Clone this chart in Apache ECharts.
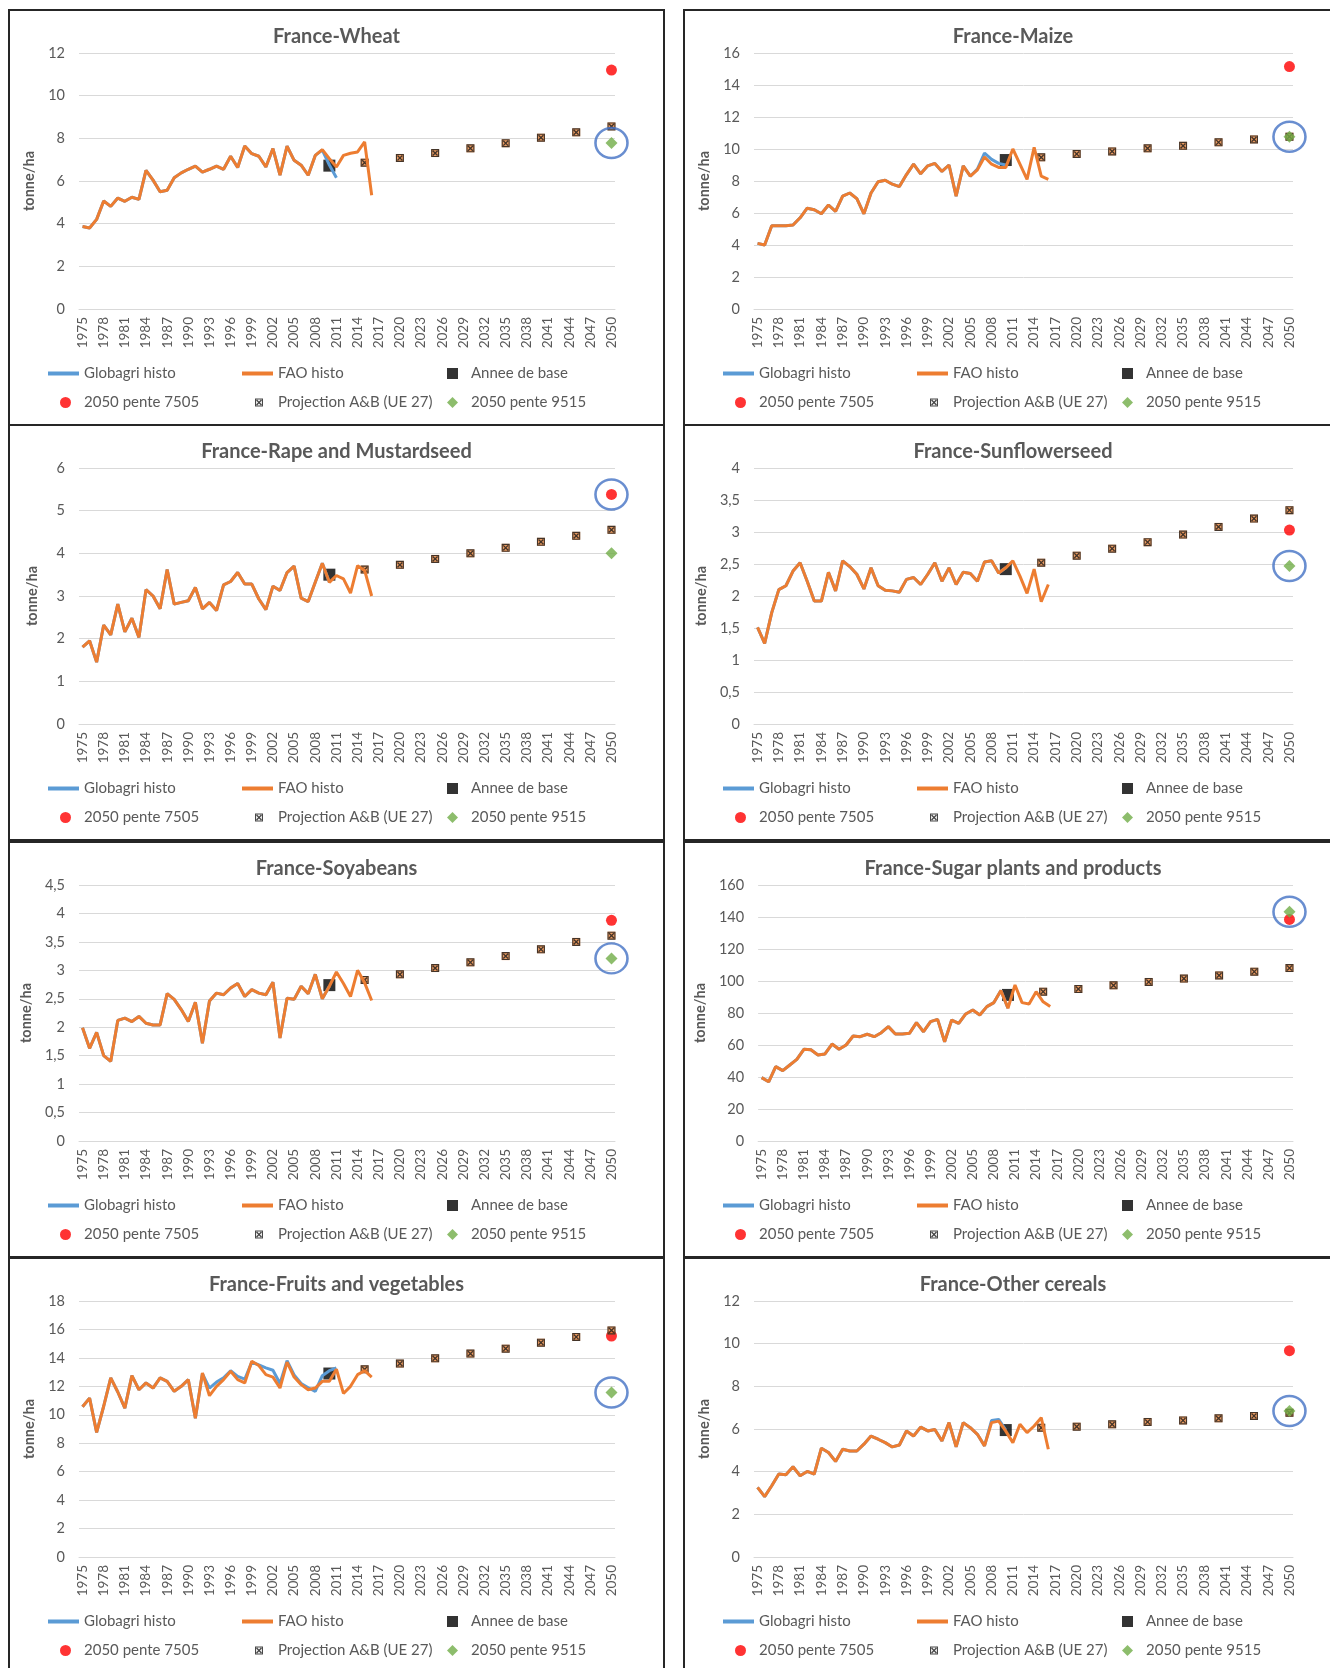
<!DOCTYPE html>
<html>
<head>
<meta charset="utf-8">
<title>France yields</title>
<script src="https://cdn.jsdelivr.net/npm/echarts@6/dist/echarts.min.js"></script>
<style>
  html, body { margin: 0; padding: 0; background: #fff; }
  body { width: 1330px; height: 1668px; position: relative; overflow: hidden; }
  .panel { position: absolute; box-sizing: border-box; border: 2px solid #262626; background: #fff; }
</style>
</head>
<body>
<script>
// axe des années (catégories)
const years = [];
for (let y = 1975; y <= 2050; y++) years.push(String(y));
const baseYear = '2010';
const projYears = ['2015', '2020', '2025', '2030', '2035', '2040', '2045', '2050'];
const endYear = '2050';

// ---- Wheat
const wheatFao = [3.87, 3.8, 4.2, 5.06, 4.81, 5.2, 5.05, 5.24, 5.14, 6.5, 6.04, 5.5, 5.57, 6.15, 6.38, 6.55, 6.7, 6.42, 6.55, 6.7, 6.55, 7.16, 6.63, 7.64, 7.28, 7.16, 6.66, 7.52, 6.27, 7.63, 6.97, 6.74, 6.27, 7.2, 7.47, 7.05, 6.66, 7.2, 7.3, 7.36, 7.83, 5.33];
const wheatGlobagri = [3.87, 3.8, 4.2, 5.06, 4.81, 5.2, 5.05, 5.24, 5.14, 6.5, 6.04, 5.5, 5.57, 6.15, 6.38, 6.55, 6.7, 6.42, 6.55, 6.7, 6.55, 7.16, 6.63, 7.64, 7.28, 7.16, 6.66, 7.52, 6.27, 7.63, 6.97, 6.74, 6.27, 7.2, 7.45, 6.75, 6.15];
const wheatBase = 6.72;
const wheatProj = [6.86, 7.08, 7.31, 7.53, 7.77, 8.03, 8.28, 8.56];
const wheat7505 = 11.2;
const wheat9515 = 7.78;

// ---- Maize
const maizeFao = [4.1, 4.0, 5.2, 5.2, 5.2, 5.25, 5.7, 6.3, 6.2, 5.95, 6.5, 6.1, 7.05, 7.25, 6.9, 5.95, 7.25, 7.95, 8.05, 7.8, 7.65, 8.4, 9.05, 8.45, 8.95, 9.1, 8.6, 9.0, 7.05, 8.95, 8.3, 8.7, 9.5, 9.05, 8.85, 8.85, 10.0, 9.05, 8.1, 10.1, 8.3, 8.1];
const maizeGlobagri = [4.1, 4.0, 5.2, 5.2, 5.2, 5.25, 5.7, 6.3, 6.2, 5.95, 6.5, 6.1, 7.05, 7.25, 6.9, 5.95, 7.25, 7.95, 8.05, 7.8, 7.65, 8.4, 9.05, 8.45, 8.95, 9.1, 8.6, 9.0, 7.05, 8.95, 8.3, 8.75, 9.75, 9.35, 9.1, 9.0];
const maizeBase = 9.31;
const maizeProj = [9.48, 9.69, 9.85, 10.04, 10.2, 10.42, 10.6, 10.77];
const maize7505 = 15.15;
const maize9515 = 10.77;

// ---- Rape and Mustardseed
const rapeFao = [1.8, 1.95, 1.45, 2.32, 2.09, 2.81, 2.16, 2.48, 2.03, 3.15, 3.0, 2.7, 3.62, 2.81, 2.85, 2.89, 3.2, 2.7, 2.85, 2.66, 3.26, 3.34, 3.55, 3.28, 3.28, 2.93, 2.68, 3.23, 3.13, 3.55, 3.7, 2.95, 2.87, 3.32, 3.77, 3.32, 3.48, 3.4, 3.07, 3.71, 3.6, 3.0];
const rapeGlobagri = [1.8, 1.95, 1.45, 2.32, 2.09, 2.81, 2.16, 2.48, 2.03, 3.15, 3.0, 2.7, 3.62, 2.81, 2.85, 2.89, 3.2, 2.7, 2.85, 2.66, 3.26, 3.34, 3.55, 3.28, 3.28, 2.93, 2.68, 3.23, 3.13, 3.55, 3.7, 2.95, 2.87, 3.32, 3.77, 3.32];
const rapeBase = 3.5;
const rapeProj = [3.62, 3.73, 3.87, 4.0, 4.13, 4.27, 4.41, 4.55];
const rape7505 = 5.38;
const rape9515 = 4.0;

// ---- Sunflowerseed
const sunFao = [1.51, 1.26, 1.74, 2.1, 2.16, 2.39, 2.52, 2.23, 1.92, 1.92, 2.37, 2.08, 2.55, 2.46, 2.34, 2.11, 2.44, 2.16, 2.09, 2.08, 2.06, 2.26, 2.29, 2.18, 2.34, 2.52, 2.23, 2.44, 2.18, 2.37, 2.35, 2.23, 2.53, 2.55, 2.36, 2.44, 2.55, 2.31, 2.04, 2.42, 1.91, 2.18];
const sunGlobagri = [1.51, 1.26, 1.74, 2.1, 2.16, 2.39, 2.52, 2.23, 1.92, 1.92, 2.37, 2.08, 2.55, 2.46, 2.34, 2.11, 2.44, 2.16, 2.09, 2.08, 2.06, 2.26, 2.29, 2.18, 2.34, 2.52, 2.23, 2.44, 2.18, 2.37, 2.35, 2.23, 2.53, 2.55, 2.36, 2.44];
const sunBase = 2.42;
const sunProj = [2.52, 2.63, 2.74, 2.84, 2.96, 3.08, 3.21, 3.34];
const sun7505 = 3.03;
const sun9515 = 2.47;

// ---- Soyabeans
const soyFao = [1.99, 1.63, 1.91, 1.5, 1.4, 2.12, 2.16, 2.1, 2.19, 2.07, 2.04, 2.04, 2.59, 2.49, 2.31, 2.1, 2.44, 1.72, 2.46, 2.6, 2.57, 2.69, 2.77, 2.54, 2.66, 2.6, 2.57, 2.79, 1.81, 2.51, 2.49, 2.72, 2.59, 2.93, 2.5, 2.72, 2.97, 2.77, 2.54, 3.0, 2.78, 2.47];
const soyGlobagri = [1.99, 1.63, 1.91, 1.5, 1.4, 2.12, 2.16, 2.1, 2.19, 2.07, 2.04, 2.04, 2.59, 2.49, 2.31, 2.1, 2.44, 1.72, 2.46, 2.6, 2.57, 2.69, 2.77, 2.54, 2.66, 2.6, 2.57, 2.79, 1.81, 2.51, 2.49, 2.72, 2.59, 2.93, 2.5, 2.72];
const soyBase = 2.74;
const soyProj = [2.83, 2.93, 3.04, 3.14, 3.25, 3.37, 3.5, 3.61];
const soy7505 = 3.88;
const soy9515 = 3.21;

// ---- Sugar plants and products
const sugarFao = [39.6, 37, 46.5, 44, 47.5, 51, 57.3, 57, 53.8, 54.4, 60.6, 57.3, 60, 65.6, 65.2, 66.7, 65.2, 67.7, 71.5, 66.9, 66.9, 67.3, 74, 68.3, 74.6, 76, 62, 75.6, 73.5, 79.4, 81.9, 78.8, 84, 86.5, 94, 83, 97.5, 86.5, 85.6, 93.3, 87, 84];
const sugarGlobagri = [39.6, 37, 46.5, 44, 47.5, 51, 57.3, 57, 53.8, 54.4, 60.6, 57.3, 60, 65.6, 65.2, 66.7, 65.2, 67.7, 71.5, 66.9, 66.9, 67.3, 74, 68.3, 74.6, 76, 62, 75.6, 73.5, 79.4, 81.9, 78.8, 84, 86.5, 94, 83];
const sugarBase = 91.3;
const sugarProj = [93.3, 95, 97.3, 99.4, 101.5, 103.5, 105.8, 108.1];
const sugar7505 = 138.5;
const sugar9515 = 143.3;

// ---- Fruits and vegetables
const fruitFao = [10.56, 11.17, 8.76, 10.6, 12.6, 11.6, 10.47, 12.75, 11.76, 12.24, 11.88, 12.6, 12.35, 11.65, 12.0, 12.47, 9.76, 12.94, 11.34, 12.0, 12.47, 13.06, 12.47, 12.24, 13.76, 13.46, 12.82, 12.65, 11.88, 13.7, 12.65, 12.12, 11.76, 11.88, 12.35, 12.35, 13.2, 11.5, 12.0, 12.82, 13.1, 12.65];
const fruitGlobagri = [10.56, 11.17, 8.76, 10.6, 12.6, 11.6, 10.47, 12.75, 11.76, 12.24, 11.88, 12.6, 12.35, 11.65, 12.0, 12.47, 9.76, 12.9, 11.88, 12.3, 12.6, 13.1, 12.7, 12.5, 13.7, 13.5, 13.3, 13.13, 12.2, 13.8, 12.8, 12.2, 11.9, 11.65, 12.75, 13.1, 13.3];
const fruitBase = 12.9;
const fruitProj = [13.2, 13.6, 13.97, 14.3, 14.65, 15.07, 15.47, 15.93];
const fruit7505 = 15.54;
const fruit9515 = 11.57;

// ---- Other cereals
const otherFao = [3.26, 2.83, 3.34, 3.89, 3.86, 4.23, 3.81, 4.01, 3.89, 5.1, 4.9, 4.48, 5.05, 4.97, 4.97, 5.29, 5.67, 5.52, 5.36, 5.16, 5.25, 5.91, 5.67, 6.09, 5.91, 5.98, 5.44, 6.3, 5.16, 6.3, 6.06, 5.75, 5.21, 6.3, 6.37, 5.9, 5.36, 6.22, 5.83, 6.14, 6.53, 5.05];
const otherGlobagri = [3.26, 2.83, 3.34, 3.89, 3.86, 4.23, 3.81, 4.01, 3.89, 5.1, 4.9, 4.48, 5.05, 4.97, 4.97, 5.29, 5.67, 5.52, 5.36, 5.16, 5.25, 5.91, 5.67, 6.09, 5.91, 5.98, 5.44, 6.3, 5.16, 6.3, 6.06, 5.75, 5.21, 6.4, 6.45, 5.95];
const otherBase = 5.95;
const otherProj = [6.06, 6.11, 6.22, 6.33, 6.4, 6.5, 6.61, 6.76];
const other7505 = 9.67;
const other9515 = 6.84;

const panels = [
  { title: 'France-Wheat', max: 12, step: 2, globagri: wheatGlobagri, fao: wheatFao, base: wheatBase, proj: wheatProj, p7505: wheat7505, p9515: wheat9515, circled: wheat9515 },
  { title: 'France-Maize', max: 16, step: 2, globagri: maizeGlobagri, fao: maizeFao, base: maizeBase, proj: maizeProj, p7505: maize7505, p9515: maize9515, circled: maize9515 },
  { title: 'France-Rape and Mustardseed', max: 6, step: 1, globagri: rapeGlobagri, fao: rapeFao, base: rapeBase, proj: rapeProj, p7505: rape7505, p9515: rape9515, circled: rape7505 },
  { title: 'France-Sunflowerseed', max: 4, step: 0.5, globagri: sunGlobagri, fao: sunFao, base: sunBase, proj: sunProj, p7505: sun7505, p9515: sun9515, circled: sun9515 },
  { title: 'France-Soyabeans', max: 4.5, step: 0.5, globagri: soyGlobagri, fao: soyFao, base: soyBase, proj: soyProj, p7505: soy7505, p9515: soy9515, circled: soy9515 },
  { title: 'France-Sugar plants and products', max: 160, step: 20, globagri: sugarGlobagri, fao: sugarFao, base: sugarBase, proj: sugarProj, p7505: sugar7505, p9515: sugar9515, circled: sugar9515 },
  { title: 'France-Fruits and vegetables', max: 18, step: 2, globagri: fruitGlobagri, fao: fruitFao, base: fruitBase, proj: fruitProj, p7505: fruit7505, p9515: fruit9515, circled: fruit9515 },
  { title: 'France-Other cereals', max: 12, step: 2, globagri: otherGlobagri, fao: otherFao, base: otherBase, proj: otherProj, p7505: other7505, p9515: other9515, circled: other9515 }
];

// positions des cadres [left, top, width]
const slots = [[8, 9, 657], [683, 9, 660], [8, 424, 657], [683, 424, 660], [8, 841, 657], [683, 841, 660], [8, 1257, 657], [683, 1257, 660]];

const FONT = 'Lato, "Open Sans", sans-serif';
const TXT = '#595959';
const GRIDC = '#D9D9D9';
// marqueur "x" d'Excel : cadre + croix
const xMark = 'path://M0,0H10V10H0Z M1.4,1.4V8.6H8.6V1.4Z M1.4,2.6L2.6,1.4L8.6,7.4L7.4,8.6Z M7.4,1.4L8.6,2.6L2.6,8.6L1.4,7.4Z';

// un item de légende
function leg(name, left, top, icon, w, h, pad, style) {
  const item = { name: name, icon: icon };
  if (style) item.itemStyle = style;
  return {
    data: [item],
    left: left, top: top, padding: 0,
    itemWidth: w, itemHeight: h,
    selectedMode: false,
    textStyle: { fontSize: 15, color: TXT, fontFamily: FONT, padding: [0, 0, 0, pad] }
  };
}

function lineData(arr) {
  return years.map((y, i) => (i < arr.length ? arr[i] : null));
}

function makeOption(p) {
  const row1 = 355, row2 = 384;
  const projData = projYears.map((y, i) => [y, p.proj[i]]);
  return {
    animation: false,
    textStyle: { fontFamily: FONT },
    title: {
      text: p.title, left: 'center', top: 11,
      textStyle: { fontSize: 20, fontWeight: 'bold', color: TXT, fontFamily: FONT }
    },
    grid: { left: 69, right: 48, top: 42, bottom: 115 },
    legend: [
      leg('Globagri histo', 38, row1, 'rect', 31, 4, 0),
      leg('FAO histo', 232, row1, 'rect', 31, 4, 0),
      leg('Annee de base', 437, row1, 'rect', 11, 11, 8),
      leg('2050 pente 7505', 50, row2, 'circle', 11, 11, 8),
      leg('Projection A&B (UE 27)', 245, row2, xMark, 8, 8, 10, { color: '#1a1a1a', borderWidth: 0 }),
      leg('2050 pente 9515', 437, row2, 'diamond', 11, 11, 8)
    ],
    xAxis: {
      type: 'category', data: years, boundaryGap: true,
      axisTick: { show: false },
      axisLine: { lineStyle: { color: GRIDC, width: 1 } },
      axisLabel: { interval: 2, rotate: 90, fontSize: 13.5, color: TXT, margin: 8, fontFamily: FONT }
    },
    yAxis: {
      type: 'value', min: 0, max: p.max, interval: p.step,
      name: 'tonne/ha', nameLocation: 'middle', nameGap: 39,
      nameTextStyle: { fontSize: 14.5, fontWeight: 'bold', color: TXT, fontFamily: FONT },
      axisLine: { show: false }, axisTick: { show: false },
      splitLine: { lineStyle: { color: GRIDC, width: 1 } },
      axisLabel: { fontSize: 14.5, color: TXT, margin: 14, fontFamily: FONT, formatter: v => String(v).replace('.', ',') }
    },
    series: [
      { name: 'Globagri histo', type: 'line', data: lineData(p.globagri), color: '#5B9BD5', symbol: 'none', lineStyle: { width: 3 } },
      { name: 'FAO histo', type: 'line', data: lineData(p.fao), color: '#ED7D31', symbol: 'none', lineStyle: { width: 3 } },
      { name: 'Annee de base', type: 'scatter', data: [[baseYear, p.base]], color: '#000000', symbol: 'rect', symbolSize: 12 },
      { name: '2050 pente 7505', type: 'scatter', data: [[endYear, p.p7505]], color: '#FF0000', symbol: 'circle', symbolSize: 11 },
      { name: 'Projection A&B (UE 27)', type: 'scatter', data: projData, color: '#E8833A', symbol: 'rect', symbolSize: 8 },
      { name: 'projX', type: 'scatter', data: projData, color: '#1a1a1a', symbol: xMark, symbolSize: 8, silent: true },
      { name: '2050 pente 9515', type: 'scatter', data: [[endYear, p.p9515]], color: '#70AD47', symbol: 'diamond', symbolSize: 12 },
      { name: 'cercle', type: 'scatter', data: [[endYear, p.circled]], symbol: 'circle', symbolSize: [32, 30], silent: true, z: 5,
        itemStyle: { color: 'rgba(0,0,0,0)', borderColor: '#4472C4', borderWidth: 2.5 } }
    ]
  };
}

panels.forEach((p, k) => {
  const s = slots[k];
  const div = document.createElement('div');
  div.className = 'panel';
  div.style.left = s[0] + 'px';
  div.style.top = s[1] + 'px';
  div.style.width = s[2] + 'px';
  div.style.height = '417px';
  document.body.appendChild(div);
  const chart = echarts.init(div);
  chart.setOption(makeOption(p));
});
</script>
</body>
</html>
